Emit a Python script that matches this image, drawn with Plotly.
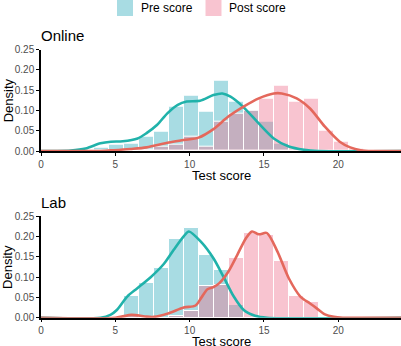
import plotly.graph_objects as go

# ---- data ----
bin_centers = [4.05, 5.06, 6.07, 7.08, 8.09, 9.10, 10.11, 11.12, 12.13, 13.14,
               14.15, 15.16, 16.17, 17.18, 18.19, 19.20, 20.21, 21.22]
bin_width = 1.01

online_pre_hist = [0.008, 0.015, 0.017, 0.035, 0.048, 0.109, 0.136, 0.097, 0.173, 0.122,
                   0.100, 0.072, 0.017, 0, 0, 0, 0, 0]
online_post_hist = [0, 0, 0, 0.004, 0.010, 0.015, 0.035, 0.010, 0.072, 0.093,
                    0.100, 0.128, 0.160, 0.122, 0.130, 0.049, 0.023, 0.005]
lab_pre_hist = [0, 0, 0.053, 0.085, 0.123, 0.194, 0.220, 0.154, 0.117, 0.031,
                0, 0, 0, 0, 0, 0, 0, 0]
lab_post_hist = [0, 0, 0.005, 0, 0, 0.005, 0.016, 0.078, 0.080, 0.146,
                 0.208, 0.204, 0.140, 0.053, 0.039, 0, 0, 0]

online_pre_kde_x = [0, 1, 2, 3, 4, 4.7, 5.5, 6.5, 7.1, 7.8, 8.5, 9.2, 9.8, 10.7, 11.6, 12.2,
                    12.75, 13.6, 14.65, 15.66, 16.67, 17.7, 18.7, 24.3]
online_pre_kde_y = [0, 0, 0.001, 0.006, 0.019, 0.023, 0.024, 0.031, 0.044, 0.064, 0.093, 0.114,
                    0.122, 0.124, 0.138, 0.142, 0.134, 0.109, 0.068, 0.031, 0.011, 0.003, 0, 0]
online_post_kde_x = [0, 4, 4.9, 6, 7.1, 8.6, 9.6, 10.6, 11.6, 12.6, 13.6, 14.65, 15.66, 16.2,
                     17.2, 18.1, 19.1, 20.1, 20.8, 21.5, 22.3, 24.3]
online_post_kde_y = [0, 0, 0.002, 0.005, 0.009, 0.021, 0.027, 0.033, 0.054, 0.085, 0.109, 0.130,
                     0.142, 0.142, 0.130, 0.105, 0.060, 0.023, 0.009, 0.002, 0, 0]
lab_pre_kde_x = [0, 4.0, 4.67, 5.1, 5.8, 6.46, 7.36, 8.26, 8.93, 9.6, 9.95, 10.8, 11.6, 12.3,
                 12.97, 13.64, 14.4, 15.2, 24.3]
lab_pre_kde_y = [0, 0, 0.007, 0.019, 0.052, 0.072, 0.099, 0.132, 0.167, 0.200, 0.212, 0.185,
                 0.146, 0.099, 0.052, 0.019, 0.005, 0, 0]
lab_post_kde_x = [0, 5.0, 6.1, 7.0, 7.6, 8.6, 9.6, 10.4, 10.8, 11.2, 11.6, 12.0, 12.6, 13.2,
                  13.8, 14.2, 14.65, 15.2, 15.9, 16.67, 17.45, 18.1, 18.55, 19.1, 19.7, 20.3, 24.3]
lab_post_kde_y = [0, 0, 0.007, 0.003, 0.002, 0.011, 0.025, 0.030, 0.050, 0.070, 0.075, 0.085,
                  0.113, 0.154, 0.196, 0.212, 0.205, 0.208, 0.163, 0.097, 0.052, 0.035, 0.023,
                  0.008, 0.002, 0, 0]

x_ticks = [0, 5, 10, 15, 20]
y_ticks = [0, 0.05, 0.10, 0.15, 0.20, 0.25]
y_tick_labels = ["0.00", "0.05", "0.10", "0.15", "0.20", "0.25"]
panel_titles = ["Online", "Lab"]
series_names = ["Pre score", "Post score"]

# ---- style ----
PRE_FILL = "rgba(37,167,185,0.4)"
POST_FILL = "rgba(237,107,137,0.4)"
PRE_KEY = "rgb(168,220,227)"
POST_KEY = "rgb(248,196,208)"
PRE_LINE = "#20B2AA"
POST_LINE = "#E4685C"
FONT = "Liberation Sans, Arial, sans-serif"

W, H = 401, 346
fig = go.Figure()

panels = [
    ("x", "y", online_pre_hist, online_post_hist,
     (online_pre_kde_x, online_pre_kde_y), (online_post_kde_x, online_post_kde_y)),
    ("x2", "y2", lab_pre_hist, lab_post_hist,
     (lab_pre_kde_x, lab_pre_kde_y), (lab_post_kde_x, lab_post_kde_y)),
]
for xa, ya, pre_h, post_h, pre_k, post_k in panels:
    fig.add_trace(go.Bar(x=bin_centers, y=pre_h, width=bin_width, xaxis=xa, yaxis=ya,
                         marker=dict(color=PRE_FILL, line=dict(color="white", width=1)),
                         showlegend=False))
    fig.add_trace(go.Bar(x=bin_centers, y=post_h, width=bin_width, xaxis=xa, yaxis=ya,
                         marker=dict(color=POST_FILL, line=dict(color="white", width=1)),
                         showlegend=False))
    fig.add_trace(go.Scatter(x=pre_k[0], y=pre_k[1], mode="lines", xaxis=xa, yaxis=ya,
                             line=dict(color=PRE_LINE, width=2.6, shape="spline", smoothing=0.8),
                             showlegend=False))
    fig.add_trace(go.Scatter(x=post_k[0], y=post_k[1], mode="lines", xaxis=xa, yaxis=ya,
                             line=dict(color=POST_LINE, width=2.6, shape="spline", smoothing=0.8),
                             showlegend=False))

L = 41
xaxis_style = dict(range=[0, 24.22], tickvals=x_ticks, ticks="outside", ticklen=3,
                   tickcolor="black", tickwidth=1, showline=True, linecolor="black",
                   linewidth=1.5, showgrid=False, zeroline=False,
                   tickfont=dict(family=FONT, size=10, color="#4D4D4D"), automargin=False)
yaxis_style = dict(range=[0, 0.25], tickvals=y_ticks, ticktext=y_tick_labels, ticks="outside",
                   ticklen=3, tickcolor="black", tickwidth=1, showline=True, linecolor="black",
                   linewidth=1.5, showgrid=False, zeroline=False,
                   tickfont=dict(family=FONT, size=10, color="#4D4D4D"), automargin=False)

def py(px):
    return 1 - px / H

fig.update_layout(
    width=W, height=H, margin=dict(l=L, r=0, t=0, b=0),
    paper_bgcolor="white", plot_bgcolor="white", barmode="overlay", bargap=0,
    xaxis=dict(xaxis_style, domain=[0, 1], anchor="y"),
    yaxis=dict(yaxis_style, domain=[py(151), py(49.7)], anchor="x"),
    xaxis2=dict(xaxis_style, domain=[0, 1], anchor="y2"),
    yaxis2=dict(yaxis_style, domain=[py(317.7), py(216)], anchor="x2"),
    showlegend=False,
    font=dict(family=FONT),
)

pw = W - L
def pxx(px):
    return (px - L) / pw

annotations = []
# panel titles
for title, ypx in zip(panel_titles, [35, 202.5]):
    annotations.append(dict(text=title, x=pxx(38.5), y=py(ypx), xref="paper", yref="paper",
                            xanchor="left", yanchor="middle", showarrow=False,
                            font=dict(family=FONT, size=15, color="black")))
# axis titles
for ypx in [175, 341]:
    annotations.append(dict(text="Test score", x=0.5, y=py(ypx), xref="paper", yref="paper",
                            xanchor="center", yanchor="middle", showarrow=False,
                            font=dict(family=FONT, size=13, color="black")))
for ypx in [100.3, 266.9]:
    annotations.append(dict(text="Density", x=pxx(8), y=py(ypx), xref="paper", yref="paper",
                            xanchor="center", yanchor="middle", showarrow=False, textangle=-90,
                            font=dict(family=FONT, size=13, color="black")))
# legend
shapes = []
for name, color, x0, tx in zip(series_names, [PRE_KEY, POST_KEY], [117, 205.5], [139, 227]):
    shapes.append(dict(type="rect", xref="paper", yref="paper", x0=pxx(x0), x1=pxx(x0 + 16),
                       y0=py(16), y1=py(0), fillcolor=color, line=dict(width=0)))
    annotations.append(dict(text=name, x=pxx(tx), y=py(8.5), xref="paper", yref="paper",
                            xanchor="left", yanchor="middle", showarrow=False,
                            font=dict(family=FONT, size=12, color="black")))

fig.update_layout(annotations=annotations, shapes=shapes)
fig.write_html("out.html", config={"displayModeBar": False},
               post_script="document.body.style.margin='0';document.body.style.overflow='hidden';")
